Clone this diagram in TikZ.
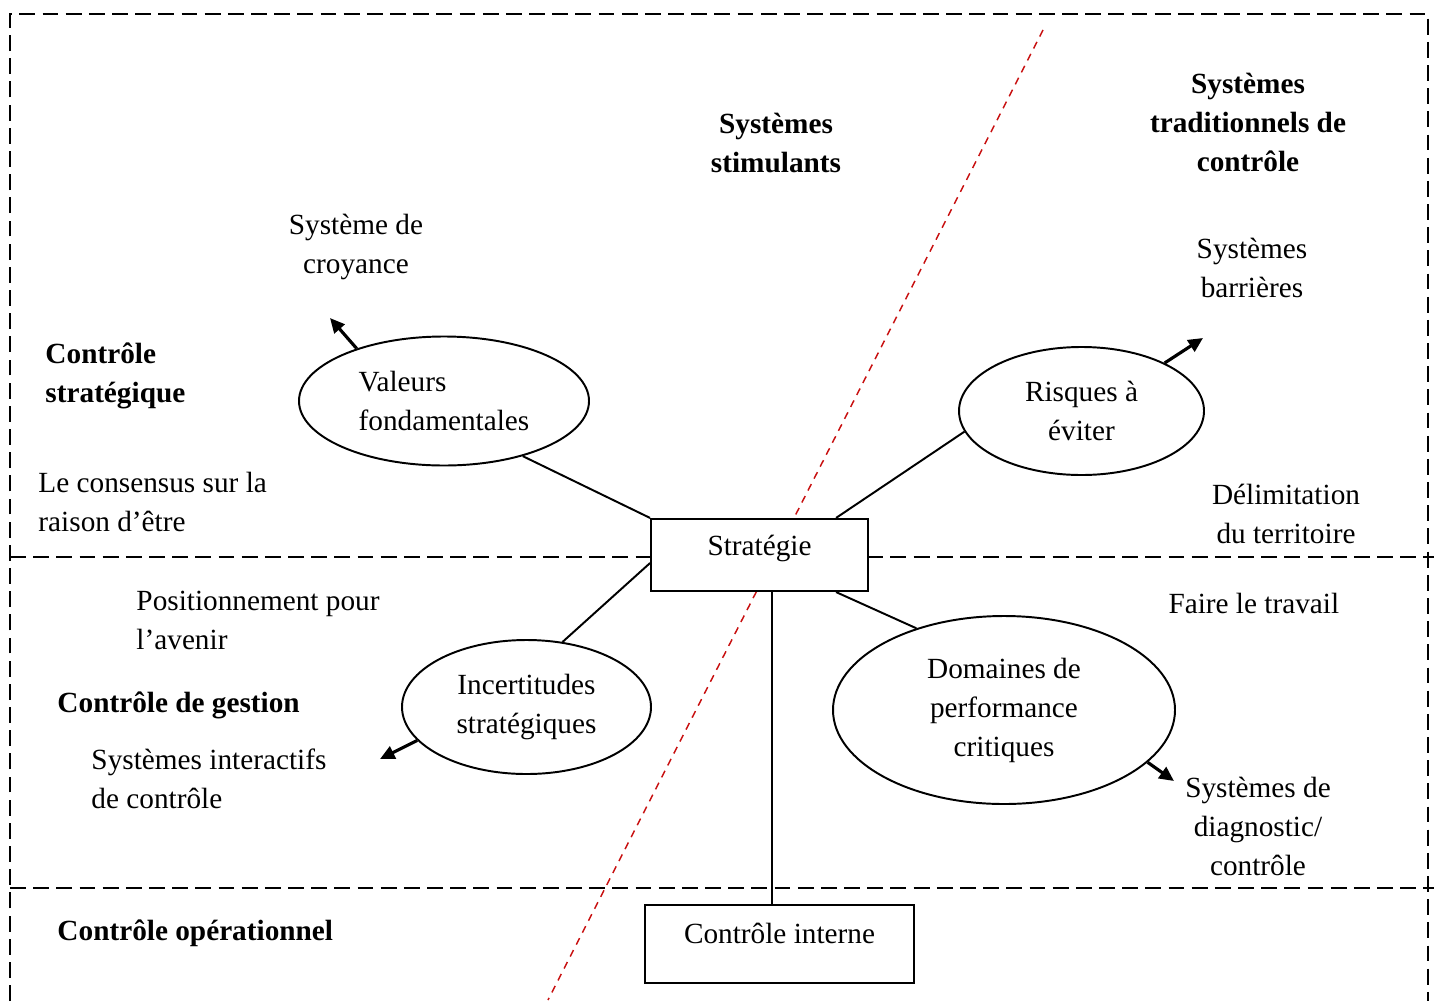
\documentclass[tikz,border=0pt]{standalone}
\usepackage{fontspec}
\setmainfont{Liberation Serif}
\usetikzlibrary{shapes.geometric,arrows.meta,calc}
\definecolor{splitred}{RGB}{200,16,16}
\begin{document}
\begin{tikzpicture}[x=0.41pt,y=-0.41pt,
  every node/.style={font=\fontsize{12}{16}\selectfont, inner sep=0pt},
  txt/.style={align=center},
  ltxt/.style={align=left, anchor=west},
  head/.style={font=\fontsize{12}{16}\selectfont\bfseries},
  zone/.style={line width=0.85pt, dash pattern=on 6.5pt off 3pt},
  divider/.style={splitred, line width=0.6pt, dash pattern=on 3pt off 2.5pt},
  bubble/.style={ellipse, draw, line width=0.8pt, fill=white, align=center},
  boxnode/.style={draw, line width=0.8pt, fill=white},
  link/.style={line width=0.8pt},
  pointer/.style={line width=1.3pt, -{Triangle[length=6pt,width=5.5pt]}},
]
\useasboundingbox (0,0) rectangle (1438,1001);

% frame and zone separators
\draw[zone] (10,1001) -- (10,14) -- (1428,14) -- (1428,1001);
\draw[zone] (10,557) -- (1434,557);
\draw[zone] (10,888) -- (1434,888);

% diagonal split between the two families of systems
\draw[divider] (1043,30) -- (548,1000);

% central boxes
\node[boxnode, minimum width=217*0.41pt, text height=14.8pt, text depth=14.8pt] (strat) at (759.5,555) {Stratégie};
\node[boxnode, minimum width=269*0.41pt, text height=15.6pt, text depth=16.4pt, anchor=base] (ci) at (779.5,943) {Contrôle interne};

% levers
\node[bubble, minimum width=290*0.41pt, minimum height=129*0.41pt, align=left] (val) at (444,401) {Valeurs\\fondamentales};
\node[bubble, minimum width=245*0.41pt, minimum height=128*0.41pt] (ris) at (1081.5,411) {Risques à\\éviter};
\node[bubble, minimum width=249*0.41pt, minimum height=134*0.41pt] (inc) at (526.5,707) {Incertitudes\\stratégiques};
\node[bubble, minimum width=342*0.41pt, minimum height=188*0.41pt] (dom) at (1004,710) {Domaines de\\performance\\critiques};

% links to the strategy
\draw[link] (val.-35) -- (strat.north west);
\draw[link] (ris.190) -- ([xshift=-13.5pt]strat.north east);
\draw[link] (inc.61) -- ([yshift=-3.3pt]strat.west);
\draw[link] (dom.137) -- ([xshift=-13.5pt]strat.south east);
\coordinate (cx) at ([xshift=5.1pt]strat.south);
\draw[link] (cx) -- (cx |- ci.north);

% outgoing arrows
\coordinate (valtip) at (330,318);
\coordinate (ristip) at (1203,338);
\coordinate (inctip) at (380,759);
\coordinate (domtip) at (1174,781);
\draw[pointer] (val.149) -- (valtip);
\draw[pointer] (ris.30) -- (ristip);
\draw[pointer] (inc.197) -- (inctip);
\draw[pointer] (dom.340) -- (domtip);

% labels
\node[head, txt] (stim) at (776,143) {Systèmes\\stimulants};
\node[head, txt] (trad) at (1248,122) {Systèmes\\traditionnels de\\contrôle};
\node[txt] (croy) at (356,247) {Système de\\croyance};
\node[txt] (barr) at (1252,267.5) {Systèmes\\barrières};
\node[head, ltxt] (cstrat) at (45,375.5) {Contrôle\\stratégique};
\node[ltxt] (cons) at (38,502) {Le consensus sur la\\raison d’être};
\node[txt] (delim) at (1286,514) {Délimitation\\du territoire};
\node[ltxt] (posi) at (136,620.5) {Positionnement pour\\l’avenir};
\node[ltxt] (faire) at (1168,603) {Faire le travail};
\node[head, ltxt] (cgest) at (57,705) {Contrôle de gestion};
\node[ltxt] (sint) at (91,778.5) {Systèmes interactifs\\de contrôle};
\node[txt] (sdiag) at (1258,826) {Systèmes de\\diagnostic/\\contrôle};
\node[head, ltxt] (cop) at (57,933) {Contrôle opérationnel};
\end{tikzpicture}
\end{document}
